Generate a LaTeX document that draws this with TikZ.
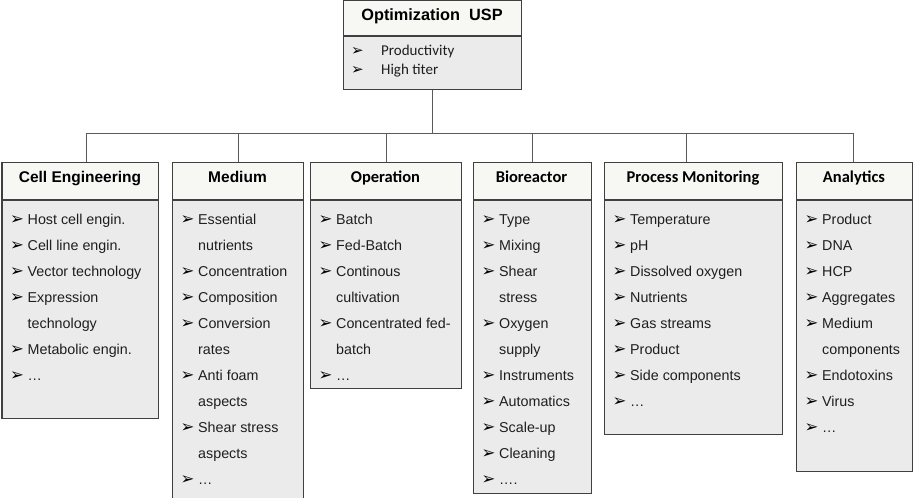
\documentclass[tikz,border=0pt]{standalone}
\usepackage{fontspec}
\setmainfont{Liberation Sans}
\newfontfamily\calfont{Carlito}
\newfontfamily\dvfont{DejaVu Sans}
\definecolor{boxc}{HTML}{404040}
\definecolor{hdrfill}{HTML}{F7F7F4}
\definecolor{bdyfill}{HTML}{EBEBEB}
\definecolor{connc}{HTML}{5A5A5A}
\definecolor{txtc}{HTML}{1E1E1E}
\newcommand\itm[4]{%
  \node[bul] (#1b) at ({#2+8.5},{224+26*#3}) {➢};
  \node[itx] (#1) at ({#2+26},{224+26*#3}) {#4};}
\newcommand\cnt[4]{%
  \node[itx] (#1) at ({#2+26},{224+26*#3}) {#4};}
\tikzset{
  hdr/.style={draw=boxc, line width=1.2pt, fill=hdrfill, minimum height=37pt, inner sep=0pt, anchor=north west},
  bdy/.style={draw=boxc, line width=1.2pt, fill=bdyfill, inner sep=0pt, anchor=north west},
  htxtA/.style={anchor=base, inner sep=0pt, font=\fontsize{15.5}{18}\selectfont\bfseries},
  htxtC/.style={anchor=base, inner sep=0pt, font=\calfont\fontsize{16.5}{19}\selectfont\bfseries},
  bul/.style={anchor=base west, inner sep=0pt, text=black, font=\dvfont\fontsize{16.5}{18}\selectfont},
  itx/.style={anchor=base west, inner sep=0pt, text=txtc, font=\fontsize{14.3}{17}\selectfont},
  tbul/.style={anchor=base west, inner sep=0pt, text=black, font=\dvfont\fontsize{15}{17}\selectfont},
  titx/.style={anchor=base west, inner sep=0pt, text=txtc, font=\calfont\fontsize{15}{18}\selectfont},
  conn/.style={draw=connc, line width=1pt},
}
\begin{document}
\begin{tikzpicture}[x=1pt,y=-1pt]
\useasboundingbox (0,0) rectangle (913,498);
% top box
\node[hdr, minimum width=178pt, minimum height=35pt] (toph) at (343,0) {};
\node[bdy, minimum width=178pt, minimum height=53pt] (topb) at (toph.south west) {};
\node[anchor=base, inner sep=0pt, font=\fontsize{16.3}{19}\selectfont\bfseries] (topt) at (432,20) {Optimization\ \ USP};
\node[tbul] (top1b) at (351,55) {➢};
\node[titx] (top1) at (381,55) {Productivity};
\node[tbul] (top2b) at (351,74) {➢};
\node[titx] (top2) at (381,74) {High titer};
% columns: headers and bodies
\node[hdr, minimum width=156.5pt] (ceh) at (1.5,162) {};
\node[bdy, minimum width=156.5pt, minimum height=218pt] (ceb) at (ceh.south west) {};
\node[hdr, minimum width=131pt] (meh) at (172,162) {};
\node[bdy, minimum width=131pt, minimum height=298pt] (meb) at (meh.south west) {};
\node[hdr, minimum width=151pt] (oph) at (310,162) {};
\node[bdy, minimum width=151pt, minimum height=188pt] (opb) at (oph.south west) {};
\node[hdr, minimum width=117.5pt] (bih) at (473,162) {};
\node[bdy, minimum width=117.5pt, minimum height=293pt] (bib) at (bih.south west) {};
\node[hdr, minimum width=178pt] (pmh) at (604,162) {};
\node[bdy, minimum width=178pt, minimum height=234pt] (pmb) at (pmh.south west) {};
\node[hdr, minimum width=116pt] (anh) at (796,162) {};
\node[bdy, minimum width=116pt, minimum height=271pt] (anb) at (anh.south west) {};
% header texts
\node[htxtA] (cet) at (80,182) {Cell Engineering};
\node[htxtA] (met) at (237.5,182) {Medium};
\node[htxtC] (opt) at (385.5,182) {Operation};
\node[htxtC] (bit) at (531.5,182) {Bioreactor};
\node[htxtC] (pmt) at (693,182) {Process Monitoring};
\node[htxtC] (ant) at (854,182) {Analytics};
% connectors
\coordinate (busL) at (86,133);
\coordinate (busR) at (853,133);
\coordinate (pmd) at (686,133);
\draw[conn] (topb.south) -- (topb.south |- busL);
\draw[conn] (busL) -- (busR);
\draw[conn] (busL) -- (busL |- ceh.north);
\draw[conn] (meh.north |- busL) -- (meh.north);
\draw[conn] (oph.north |- busL) -- (oph.north);
\draw[conn] (bih.north |- busL) -- (bih.north);
\draw[conn] (pmd) -- (pmd |- pmh.north);
\draw[conn] (busR) -- (busR |- anh.north);
% Cell Engineering items
\itm{ce1}{1.5}{0}{Host cell engin.}
\itm{ce2}{1.5}{1}{Cell line engin.}
\itm{ce3}{1.5}{2}{Vector technology}
\itm{ce4}{1.5}{3}{Expression}
\cnt{ce4c}{1.5}{4}{technology}
\itm{ce5}{1.5}{5}{Metabolic engin.}
\itm{ce6}{1.5}{6}{…}
% Medium items
\itm{me1}{172}{0}{Essential}
\cnt{me1c}{172}{1}{nutrients}
\itm{me2}{172}{2}{Concentration}
\itm{me3}{172}{3}{Composition}
\itm{me4}{172}{4}{Conversion}
\cnt{me4c}{172}{5}{rates}
\itm{me5}{172}{6}{Anti foam}
\cnt{me5c}{172}{7}{aspects}
\itm{me6}{172}{8}{Shear stress}
\cnt{me6c}{172}{9}{aspects}
\itm{me7}{172}{10}{…}
% Operation items
\itm{op1}{310}{0}{Batch}
\itm{op2}{310}{1}{Fed-Batch}
\itm{op3}{310}{2}{Continous}
\cnt{op3c}{310}{3}{cultivation}
\itm{op4}{310}{4}{Concentrated fed-}
\cnt{op4c}{310}{5}{batch}
\itm{op5}{310}{6}{…}
% Bioreactor items
\itm{bi1}{473}{0}{Type}
\itm{bi2}{473}{1}{Mixing}
\itm{bi3}{473}{2}{Shear}
\cnt{bi3c}{473}{3}{stress}
\itm{bi4}{473}{4}{Oxygen}
\cnt{bi4c}{473}{5}{supply}
\itm{bi5}{473}{6}{Instruments}
\itm{bi6}{473}{7}{Automatics}
\itm{bi7}{473}{8}{Scale-up}
\itm{bi8}{473}{9}{Cleaning}
\itm{bi9}{473}{10}{….}
% Process Monitoring items
\itm{pm1}{604}{0}{Temperature}
\itm{pm2}{604}{1}{pH}
\itm{pm3}{604}{2}{Dissolved oxygen}
\itm{pm4}{604}{3}{Nutrients}
\itm{pm5}{604}{4}{Gas streams}
\itm{pm6}{604}{5}{Product}
\itm{pm7}{604}{6}{Side components}
\itm{pm8}{604}{7}{…}
% Analytics items
\itm{an1}{796}{0}{Product}
\itm{an2}{796}{1}{DNA}
\itm{an3}{796}{2}{HCP}
\itm{an4}{796}{3}{Aggregates}
\itm{an5}{796}{4}{Medium}
\cnt{an5c}{796}{5}{components}
\itm{an6}{796}{6}{Endotoxins}
\itm{an7}{796}{7}{Virus}
\itm{an8}{796}{8}{…}
\end{tikzpicture}
\end{document}
